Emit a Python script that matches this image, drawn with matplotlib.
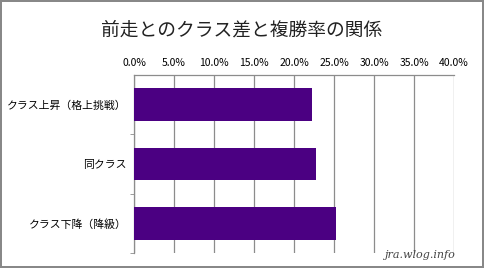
import matplotlib
matplotlib.use('Agg')
import matplotlib.pyplot as plt
from matplotlib.ticker import FuncFormatter

plt.rcParams['font.family'] = ['Noto Sans CJK JP', 'DejaVu Sans']

# データ（上から順）
categories = ['クラス上昇（格上挑戦）', '同クラス', 'クラス下降（降級）']
place_rate = [22.3, 22.7, 25.3]
xticks = [0, 5, 10, 15, 20, 25, 30, 35, 40]

fig = plt.figure(figsize=(4.84, 2.68), dpi=100)
fig.patch.set_edgecolor('#888888')
fig.patch.set_linewidth(1.5)
ax = fig.add_axes([134 / 484, 1 - 253 / 268, 320 / 484, 178 / 268])

y = list(range(len(categories)))
ax.barh(y, place_rate, height=0.55, color='#4B0082', zorder=3)
ax.set_ylim(len(categories) - 0.5, -0.5)
ax.set_xlim(0, 40)

ax.set_xticks(xticks)
ax.xaxis.set_major_formatter(FuncFormatter(lambda v, p: f'{v:.1f}%'))
ax.xaxis.tick_top()
ax.tick_params(axis='x', length=0, labelsize=7.5, pad=5)
ax.grid(axis='x', color='#8c8c8c', linewidth=0.9, zorder=0)

ax.set_yticks(y)
ax.set_yticklabels(categories, fontsize=7.8)
ax.set_yticks([0.5, 1.5, 2.5], minor=True)
ax.tick_params(axis='y', which='major', length=0, pad=5.5)
ax.tick_params(axis='y', which='minor', length=3, color='#8c8c8c')

for s in ['right', 'bottom']:
    ax.spines[s].set_visible(False)
for s in ['top', 'left']:
    ax.spines[s].set_color('#8c8c8c')
    ax.spines[s].set_linewidth(0.9)

fig.text(0.5, 1 - 30 / 268, '前走とのクラス差と複勝率の関係', ha='center', va='center',
         fontsize=13.5, color='#222222')
fig.text(0.94, 1 - 255 / 268, 'jra.wlog.info', ha='right', va='center',
         fontsize=8, style='italic', color='#444444', family='DejaVu Serif')

fig.savefig('out.png', dpi=100)
